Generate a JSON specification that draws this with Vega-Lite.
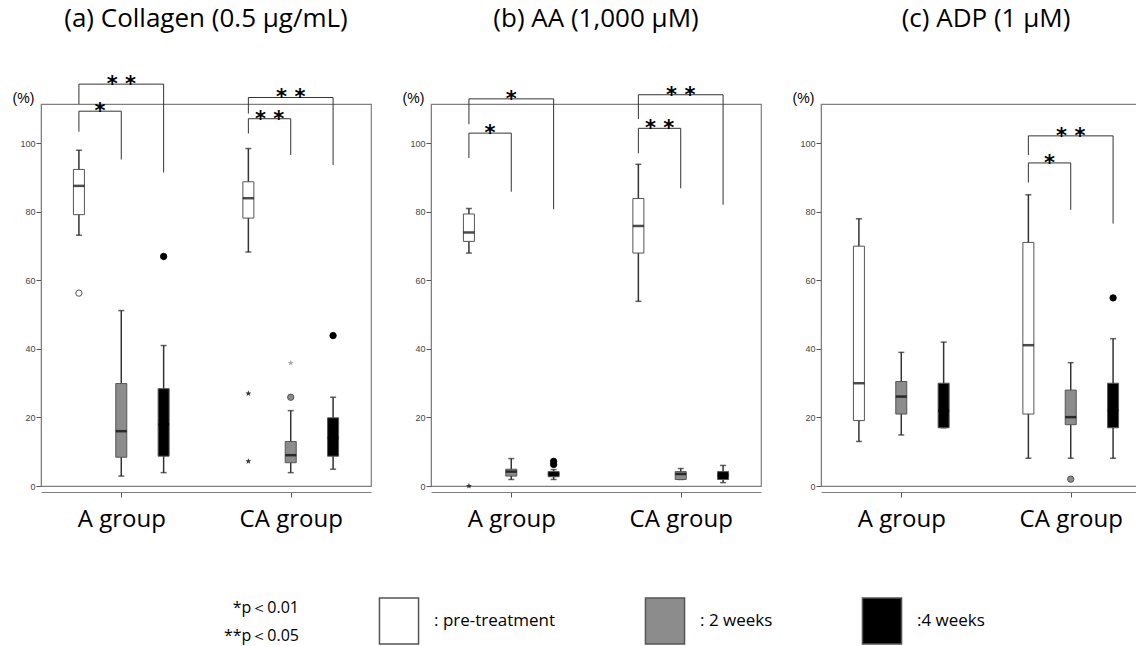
{
  "$schema": "https://vega.github.io/schema/vega-lite/v6.json",
  "padding": {"left": 11, "top": 6, "right": 0, "bottom": 0},
  "data": {"values": [
    {"panel": "(a) Collagen (0.5 μg/mL)", "kind": "box", "slot": "A pre", "time": "pre-treatment", "lower": 73.2, "q1": 79.2, "median": 87.6, "q3": 92.4, "upper": 98},
    {"panel": "(a) Collagen (0.5 μg/mL)", "kind": "box", "slot": "A 2w", "time": "2 weeks", "lower": 2.9, "q1": 8.4, "median": 16, "q3": 29.9, "upper": 51.2},
    {"panel": "(a) Collagen (0.5 μg/mL)", "kind": "box", "slot": "A 4w", "time": "4 weeks", "lower": 3.9, "q1": 8.7, "median": 18, "q3": 28.4, "upper": 41},
    {"panel": "(a) Collagen (0.5 μg/mL)", "kind": "box", "slot": "CA pre", "time": "pre-treatment", "lower": 68.3, "q1": 78.2, "median": 84, "q3": 88.8, "upper": 98.5},
    {"panel": "(a) Collagen (0.5 μg/mL)", "kind": "box", "slot": "CA 2w", "time": "2 weeks", "lower": 3.9, "q1": 6.8, "median": 9, "q3": 13, "upper": 22},
    {"panel": "(a) Collagen (0.5 μg/mL)", "kind": "box", "slot": "CA 4w", "time": "4 weeks", "lower": 4.9, "q1": 8.7, "median": 14, "q3": 19.9, "upper": 25.9},
    {"panel": "(b) AA (1,000 μM)", "kind": "box", "slot": "A pre", "time": "pre-treatment", "lower": 68, "q1": 71.4, "median": 74, "q3": 79.4, "upper": 81},
    {"panel": "(b) AA (1,000 μM)", "kind": "box", "slot": "A 2w", "time": "2 weeks", "lower": 1.9, "q1": 2.9, "median": 4.2, "q3": 4.9, "upper": 8},
    {"panel": "(b) AA (1,000 μM)", "kind": "box", "slot": "A 4w", "time": "4 weeks", "lower": 1.9, "q1": 2.7, "median": 3.5, "q3": 4.2, "upper": 4.8},
    {"panel": "(b) AA (1,000 μM)", "kind": "box", "slot": "CA pre", "time": "pre-treatment", "lower": 53.9, "q1": 68, "median": 75.9, "q3": 83.9, "upper": 93.9},
    {"panel": "(b) AA (1,000 μM)", "kind": "box", "slot": "CA 2w", "time": "2 weeks", "lower": 1.9, "q1": 1.9, "median": 3.5, "q3": 4.2, "upper": 5.1},
    {"panel": "(b) AA (1,000 μM)", "kind": "box", "slot": "CA 4w", "time": "4 weeks", "lower": 1, "q1": 1.9, "median": 3.1, "q3": 4.2, "upper": 6},
    {"panel": "(c) ADP (1 μM)", "kind": "box", "slot": "A pre", "time": "pre-treatment", "lower": 13, "q1": 19.1, "median": 30, "q3": 70, "upper": 78},
    {"panel": "(c) ADP (1 μM)", "kind": "box", "slot": "A 2w", "time": "2 weeks", "lower": 14.9, "q1": 21, "median": 26.1, "q3": 30.5, "upper": 39},
    {"panel": "(c) ADP (1 μM)", "kind": "box", "slot": "A 4w", "time": "4 weeks", "lower": 17, "q1": 17, "median": 22, "q3": 30, "upper": 42},
    {"panel": "(c) ADP (1 μM)", "kind": "box", "slot": "CA pre", "time": "pre-treatment", "lower": 8.1, "q1": 21, "median": 41.1, "q3": 71.1, "upper": 85},
    {"panel": "(c) ADP (1 μM)", "kind": "box", "slot": "CA 2w", "time": "2 weeks", "lower": 8.1, "q1": 17.9, "median": 20.1, "q3": 28, "upper": 36},
    {"panel": "(c) ADP (1 μM)", "kind": "box", "slot": "CA 4w", "time": "4 weeks", "lower": 8.1, "q1": 17, "median": 22, "q3": 30, "upper": 43},
    {"panel": "(a) Collagen (0.5 μg/mL)", "kind": "outlier", "slot": "A pre", "time": "pre-treatment", "value": 56.3},
    {"panel": "(a) Collagen (0.5 μg/mL)", "kind": "outlier", "slot": "A 4w", "time": "4 weeks", "value": 67},
    {"panel": "(a) Collagen (0.5 μg/mL)", "kind": "outlier", "slot": "CA 2w", "time": "2 weeks", "value": 25.9},
    {"panel": "(a) Collagen (0.5 μg/mL)", "kind": "outlier", "slot": "CA 4w", "time": "4 weeks", "value": 43.9},
    {"panel": "(b) AA (1,000 μM)", "kind": "outlier", "slot": "A 4w", "time": "4 weeks", "value": 7.2},
    {"panel": "(b) AA (1,000 μM)", "kind": "outlier", "slot": "A 4w", "time": "4 weeks", "value": 6.3},
    {"panel": "(c) ADP (1 μM)", "kind": "outlier", "slot": "CA 2w", "time": "2 weeks", "value": 2},
    {"panel": "(c) ADP (1 μM)", "kind": "outlier", "slot": "CA 4w", "time": "4 weeks", "value": 54.9},
    {"panel": "(a) Collagen (0.5 μg/mL)", "kind": "extreme", "slot": "CA pre", "time": "pre-treatment", "value": 27},
    {"panel": "(a) Collagen (0.5 μg/mL)", "kind": "extreme", "slot": "CA pre", "time": "pre-treatment", "value": 7.2},
    {"panel": "(a) Collagen (0.5 μg/mL)", "kind": "extreme", "slot": "CA 2w", "time": "2 weeks", "value": 35.9},
    {"panel": "(b) AA (1,000 μM)", "kind": "extreme", "slot": "A pre", "time": "pre-treatment", "value": 0},
    {"panel": "(a) Collagen (0.5 μg/mL)", "kind": "bracket", "from": "A pre", "to": "A 2w", "mid": "A pre/2w", "top": 109.4, "leftEnd": 103.4, "rightEnd": 95.3, "label": "*"},
    {"panel": "(a) Collagen (0.5 μg/mL)", "kind": "bracket", "from": "A pre", "to": "A 4w", "mid": "A 2w", "top": 117.3, "leftEnd": 111.5, "rightEnd": 91.5, "label": "* *"},
    {"panel": "(a) Collagen (0.5 μg/mL)", "kind": "bracket", "from": "CA pre", "to": "CA 2w", "mid": "CA pre/2w", "top": 107.2, "leftEnd": 102.9, "rightEnd": 96.6, "label": "* *"},
    {"panel": "(a) Collagen (0.5 μg/mL)", "kind": "bracket", "from": "CA pre", "to": "CA 4w", "mid": "CA 2w", "top": 113.4, "leftEnd": 108.7, "rightEnd": 93.7, "label": "* *"},
    {"panel": "(b) AA (1,000 μM)", "kind": "bracket", "from": "A pre", "to": "A 2w", "mid": "A pre/2w", "top": 103, "leftEnd": 95.7, "rightEnd": 85.9, "label": "*"},
    {"panel": "(b) AA (1,000 μM)", "kind": "bracket", "from": "A pre", "to": "A 4w", "mid": "A 2w", "top": 113, "leftEnd": 105.6, "rightEnd": 80.8, "label": "*"},
    {"panel": "(b) AA (1,000 μM)", "kind": "bracket", "from": "CA pre", "to": "CA 2w", "mid": "CA pre/2w", "top": 104.4, "leftEnd": 97.1, "rightEnd": 86.9, "label": "* *"},
    {"panel": "(b) AA (1,000 μM)", "kind": "bracket", "from": "CA pre", "to": "CA 4w", "mid": "CA 2w", "top": 114.2, "leftEnd": 107.1, "rightEnd": 82.1, "label": "* *"},
    {"panel": "(c) ADP (1 μM)", "kind": "bracket", "from": "CA pre", "to": "CA 2w", "mid": "CA pre/2w", "top": 94.3, "leftEnd": 88.6, "rightEnd": 80.6, "label": "*"},
    {"panel": "(c) ADP (1 μM)", "kind": "bracket", "from": "CA pre", "to": "CA 4w", "mid": "CA 2w", "top": 102.2, "leftEnd": 96.6, "rightEnd": 76.6, "label": "* *"}
  ]},
  "facet": {"column": {"field": "panel", "type": "nominal", "title": null, "sort": ["(a) Collagen (0.5 μg/mL)", "(b) AA (1,000 μM)", "(c) ADP (1 μM)"]}},
  "spacing": {"column": 29},
  "resolve": {"axis": {"y": "independent"}},
  "spec": {
    "width": 330,
    "height": 382,
    "layer": [
      {
        "transform": [{"filter": "datum.kind === 'box'"}],
        "mark": {"type": "rule", "strokeWidth": 1.5, "color": "#333333"},
        "encoding": {
          "x": {"field": "slot", "type": "nominal", "title": null,
            "scale": {"type": "point", "padding": 0.79, "domain": ["edge L", "A pre", "A pre/2w", "A 2w", "A 2w/4w", "A 4w", "gap 1", "gap 2", "gap 3", "CA pre", "CA pre/2w", "CA 2w", "CA 2w/4w", "CA 4w", "edge R"]},
            "axis": {"values": ["A 2w", "CA 2w"], "labelExpr": "datum.value === 'A 2w' ? 'A group' : 'CA group'", "title": null}},
          "y": {"field": "lower", "type": "quantitative", "title": "(%)",
            "scale": {"domain": [0, 111.5], "nice": false, "zero": false, "padding": 0},
            "axis": {"values": [0, 20, 40, 60, 80, 100], "title": "(%)"}},
          "y2": {"field": "upper"}
        }
      },
      {
        "transform": [{"filter": "datum.kind === 'box'"}],
        "mark": {"type": "tick", "size": 6, "thickness": 1.5, "color": "#222222"},
        "encoding": {
          "x": {"field": "slot", "type": "nominal", "title": null},
          "y": {"field": "lower", "type": "quantitative", "title": "(%)"}
        }
      },
      {
        "transform": [{"filter": "datum.kind === 'box'"}],
        "mark": {"type": "tick", "size": 6, "thickness": 1.5, "color": "#222222"},
        "encoding": {
          "x": {"field": "slot", "type": "nominal", "title": null},
          "y": {"field": "upper", "type": "quantitative", "title": "(%)"}
        }
      },
      {
        "transform": [{"filter": "datum.kind === 'box'"}],
        "mark": {"type": "bar", "width": 11, "strokeWidth": 1, "stroke": "#555555"},
        "encoding": {
          "x": {"field": "slot", "type": "nominal", "title": null},
          "y": {"field": "q1", "type": "quantitative", "title": "(%)"},
          "y2": {"field": "q3"},
          "fill": {"field": "time", "type": "nominal",
            "scale": {"domain": ["pre-treatment", "2 weeks", "4 weeks"], "range": ["#ffffff", "#8c8c8c", "#000000"]},
            "legend": {
              "orient": "none", "legendX": 183, "legendY": 493, "direction": "horizontal",
              "title": ["*p＜0.01", "**p＜0.05"], "titleOrient": "left", "titleAlign": "right",
              "titleFontSize": 16, "titleFontWeight": "normal", "titleLineHeight": 28, "titlePadding": 0,
              "titleFont": "Open Sans", "titleColor": "#000000",
              "symbolType": "M-0.85,-1H0.85V1H-0.85Z", "symbolSize": 2116, "symbolStrokeWidth": 1.5,
              "labelFontSize": 17, "labelFont": "Open Sans", "labelColor": "#000000", "labelOffset": 11,
              "labelExpr": "datum.label === '4 weeks' ? ':4 weeks' : ': ' + datum.label",
              "columnPadding": 85,
              "encode": {"symbols": {
                "fill": {"condition": [{"test": "datum.value === '2 weeks'", "value": "#d0d0d0"}, {"test": "datum.value === '4 weeks'", "value": "#000000"}], "value": "#ffffff"},
                "stroke": {"condition": {"test": "datum.value === '4 weeks'", "value": "#a6a6a6"}, "value": "#203864"}
              }}
            }}
        }
      },
      {
        "transform": [{"filter": "datum.kind === 'box'"}],
        "mark": {"type": "tick", "size": 11, "thickness": 2.5, "color": "#000000"},
        "encoding": {
          "x": {"field": "slot", "type": "nominal", "title": null},
          "y": {"field": "median", "type": "quantitative", "title": "(%)"}
        }
      },
      {
        "transform": [{"filter": "datum.kind === 'outlier' && datum.time === 'pre-treatment'"}],
        "mark": {"type": "point", "shape": "circle", "size": 40, "filled": false, "strokeWidth": 1, "stroke": "#555555", "fill": "#ffffff", "opacity": 1},
        "encoding": {
          "x": {"field": "slot", "type": "nominal", "title": null},
          "y": {"field": "value", "type": "quantitative", "title": "(%)"}
        }
      },
      {
        "transform": [{"filter": "datum.kind === 'outlier' && datum.time === '2 weeks'"}],
        "mark": {"type": "point", "shape": "circle", "size": 40, "filled": false, "strokeWidth": 1, "stroke": "#555555", "fill": "#8c8c8c", "opacity": 1},
        "encoding": {
          "x": {"field": "slot", "type": "nominal", "title": null},
          "y": {"field": "value", "type": "quantitative", "title": "(%)"}
        }
      },
      {
        "transform": [{"filter": "datum.kind === 'outlier' && datum.time === '4 weeks'"}],
        "mark": {"type": "point", "shape": "circle", "size": 40, "filled": false, "strokeWidth": 1, "stroke": "#000000", "fill": "#000000", "opacity": 1},
        "encoding": {
          "x": {"field": "slot", "type": "nominal", "title": null},
          "y": {"field": "value", "type": "quantitative", "title": "(%)"}
        }
      },
      {
        "transform": [{"filter": "datum.kind === 'extreme' && datum.time !== '2 weeks'"}],
        "mark": {"type": "point", "shape": "M0,-1L0.235,-0.324L0.951,-0.309L0.38,0.124L0.588,0.809L0,0.4L-0.588,0.809L-0.38,0.124L-0.951,-0.309L-0.235,-0.324Z", "size": 40, "filled": true, "opacity": 1, "color": "#333333"},
        "encoding": {
          "x": {"field": "slot", "type": "nominal", "title": null},
          "y": {"field": "value", "type": "quantitative", "title": "(%)"}
        }
      },
      {
        "transform": [{"filter": "datum.kind === 'extreme' && datum.time === '2 weeks'"}],
        "mark": {"type": "point", "shape": "M0,-1L0.235,-0.324L0.951,-0.309L0.38,0.124L0.588,0.809L0,0.4L-0.588,0.809L-0.38,0.124L-0.951,-0.309L-0.235,-0.324Z", "size": 40, "filled": true, "opacity": 1, "color": "#aaaaaa"},
        "encoding": {
          "x": {"field": "slot", "type": "nominal", "title": null},
          "y": {"field": "value", "type": "quantitative", "title": "(%)"}
        }
      },
      {
        "transform": [{"filter": "datum.kind === 'bracket'"}],
        "mark": {"type": "rule", "color": "#333333", "strokeWidth": 1},
        "encoding": {
          "x": {"field": "from", "type": "nominal", "title": null},
          "x2": {"field": "to"},
          "y": {"field": "top", "type": "quantitative", "title": "(%)"}
        }
      },
      {
        "transform": [{"filter": "datum.kind === 'bracket'"}],
        "mark": {"type": "rule", "color": "#333333", "strokeWidth": 1},
        "encoding": {
          "x": {"field": "from", "type": "nominal", "title": null},
          "y": {"field": "leftEnd", "type": "quantitative", "title": "(%)"},
          "y2": {"field": "top"}
        }
      },
      {
        "transform": [{"filter": "datum.kind === 'bracket'"}],
        "mark": {"type": "rule", "color": "#333333", "strokeWidth": 1},
        "encoding": {
          "x": {"field": "to", "type": "nominal", "title": null},
          "y": {"field": "rightEnd", "type": "quantitative", "title": "(%)"},
          "y2": {"field": "top"}
        }
      },
      {
        "transform": [{"filter": "datum.kind === 'bracket'"}],
        "mark": {"type": "text", "fontSize": 21, "font": "DejaVu Sans", "fontWeight": "bold", "baseline": "alphabetic", "dy": 7, "color": "#000000"},
        "encoding": {
          "x": {"field": "mid", "type": "nominal", "title": null},
          "y": {"field": "top", "type": "quantitative", "title": "(%)"},
          "text": {"field": "label"}
        }
      }
    ]
  },
  "config": {
    "font": "Open Sans",
    "view": {"stroke": "#7f7f7f", "strokeWidth": 1.2},
    "axis": {"grid": false, "domainColor": "#7f7f7f", "tickColor": "#555555"},
    "axisY": {"labelFont": "Liberation Sans", "labelFontSize": 9, "labelColor": "#444444", "tickSize": 5, "labelPadding": 1,
      "titleAngle": 0, "titleX": -18, "titleY": -6, "titleFontSize": 14, "titleFontWeight": "normal", "titleColor": "#000000",
      "titleAlign": "center", "titleBaseline": "middle", "titleFont": "Liberation Sans"},
    "axisX": {"labelFontSize": 24, "labelColor": "#000000", "labelAngle": 0, "tickSize": 5, "labelPadding": 10, "labelFont": "Open Sans"},
    "header": {"labelFontSize": 26, "labelFont": "Open Sans", "labelColor": "#000000", "labelPadding": 41}
  }
}
